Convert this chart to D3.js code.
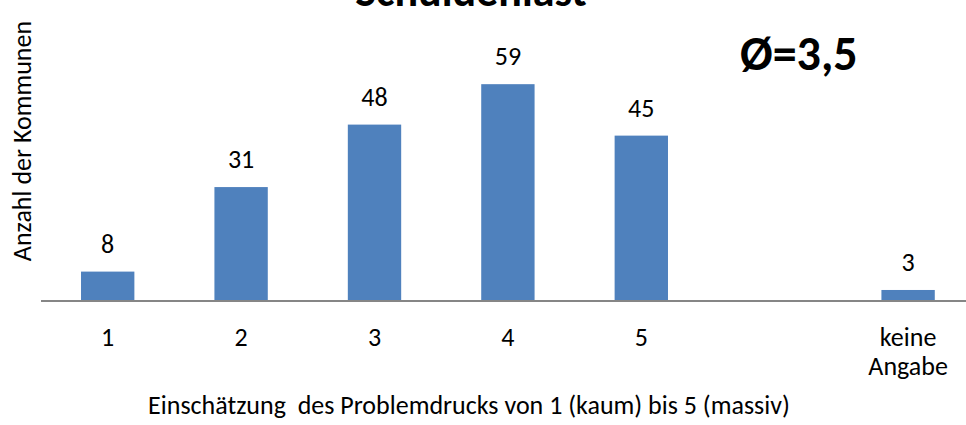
<!DOCTYPE html>
<html>
<head>
<meta charset="utf-8">
<script src="https://cdn.jsdelivr.net/npm/d3@7"></script>
<style>
  body { margin: 0; background: #fff; }
  svg { display: block; font-family: Calibri, Carlito, "Noto Sans", sans-serif; }
</style>
</head>
<body>
<svg></svg>
<script>
// categories (one empty slot between 5 and "keine Angabe")
var categories = ["1", "2", "3", "4", "5", "_gap", "keine Angabe"];
var values = [8, 31, 48, 59, 45, null, 3];
var tickLabels = [["1"], ["2"], ["3"], ["4"], ["5"], [""], ["keine", "Angabe"]];

var titleText = "Schuldenlast";
var meanText = "Ø=3,5";
var xTitle = "Einschätzung  des Problemdrucks von 1 (kaum) bis 5 (massiv)";
var yTitle = "Anzahl der Kommunen";

var width = 966;
var height = 425;
var left = 41;
var baseline = 301;

var svg = d3.select("svg").attr("width", width).attr("height", height);

var xScale = d3.scaleBand()
  .domain(categories)
  .range([left, left + 133.4 * categories.length])
  .paddingInner(0.6)
  .paddingOuter(0.3);

var yScale = d3.scaleLinear()
  .domain([0, 70])
  .range([baseline, baseline - 70 * 3.675]);

var data = categories.map((c, i) => ({ cat: c, value: values[i], ticks: tickLabels[i] }));
var shown = data.filter((d) => d.value != null);

// bars
svg.selectAll("rect.bar")
  .data(shown)
  .enter()
  .append("rect")
  .attr("class", "bar")
  .attr("x", (d) => xScale(d.cat))
  .attr("y", (d) => yScale(d.value))
  .attr("width", xScale.bandwidth())
  .attr("height", (d) => baseline - yScale(d.value))
  .attr("fill", "#4F81BD");

// value labels
svg.selectAll("text.val")
  .data(shown)
  .enter()
  .append("text")
  .attr("class", "val")
  .attr("x", (d) => xScale(d.cat) + xScale.bandwidth() / 2)
  .attr("y", (d) => yScale(d.value) - 19)
  .attr("text-anchor", "middle")
  .attr("font-size", 26)
  .attr("fill", "#000")
  .text((d) => d.value);

// x axis
var xAxis = d3.axisBottom(xScale).tickSize(0).tickFormat("");
var gx = svg.append("g")
  .attr("transform", "translate(0," + baseline + ")")
  .call(xAxis)
  .attr("font-family", null)
  .attr("font-size", null);
gx.select(".domain")
  .attr("d", "M" + left + ",0H" + width)
  .attr("stroke", "#868686")
  .attr("stroke-width", 2);

gx.selectAll(".tick")
  .each(function (c, i) {
    var lines = data[i].ticks;
    var t = d3.select(this).select("text")
      .attr("y", 0)
      .attr("dy", null)
      .attr("font-size", 26)
      .attr("fill", "#000");
    t.selectAll("tspan")
      .data(lines)
      .enter()
      .append("tspan")
      .attr("x", 0)
      .attr("y", (l, j) => 45 + j * 29)
      .text((l) => l);
  });

// axis titles
svg.append("text")
  .attr("x", 469)
  .attr("y", 414)
  .attr("text-anchor", "middle")
  .attr("font-size", 26)
  .attr("xml:space", "preserve")
  .text(xTitle);

svg.append("text")
  .attr("transform", "translate(31,141) rotate(-90)")
  .attr("text-anchor", "middle")
  .attr("font-size", 26)
  .text(yTitle);

// chart title (cut at the top, as in the source)
svg.append("text")
  .attr("x", 471)
  .attr("y", 6)
  .attr("text-anchor", "middle")
  .attr("font-size", 44)
  .attr("font-weight", "bold")
  .text(titleText);

// mean
svg.append("text")
  .attr("x", 740)
  .attr("y", 70)
  .attr("font-size", 48)
  .attr("font-weight", "bold")
  .text(meanText);
</script>
</body>
</html>
